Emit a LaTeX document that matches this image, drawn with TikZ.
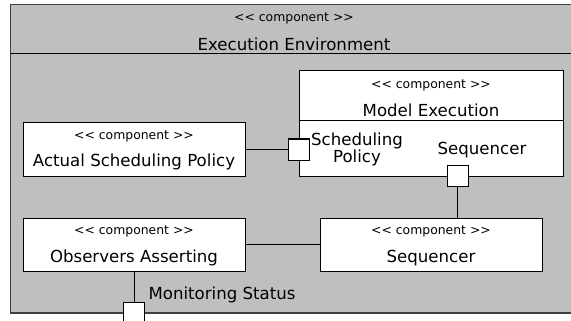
\documentclass[tikz,border=0pt]{standalone}
\usepackage{fontspec}
\setmainfont{DejaVu Sans}
\usetikzlibrary{positioning}

\newcommand{\stereotype}{<\kern0pt< component >\kern0pt>}

\tikzset{
  envbox/.style={draw=black!75, fill=black!25, line width=1.5pt},
  comp/.style={draw, fill=white, line width=1pt, inner sep=0pt},
  stereo/.style={font=\fontsize{12.4}{14}\selectfont},
  compname/.style={font=\fontsize{16.6}{19}\selectfont},
  port/.style={draw, fill=white, line width=1pt, minimum size=21pt, inner sep=0pt},
  wire/.style={line width=1pt},
}

\begin{document}
\begin{tikzpicture}[x=1pt, y=-1pt]
  \useasboundingbox (0,0) rectangle (571,321);
  \clip (0,0) rectangle (571,321);

  % Execution environment
  \draw[envbox] (10.5,4.5) rectangle (640,313);
  \draw[line width=1pt] (10.5,54) -- (571,54);
  \node[stereo] at (294,18) {\stereotype};
  \node[compname] at (294,44) {Execution Environment};

  % Components
  \node[comp, minimum width=264pt, minimum height=105pt] (modelExec) at (431,123.5) {};
  \draw[wire] (modelExec.west |- 0,121) -- (modelExec.east |- 0,121);
  \node[stereo] at (431,85) {\stereotype};
  \node[compname] at (431,110) {Model Execution};

  \node[comp, minimum width=222pt, minimum height=53pt] (actualPolicy) at (134,149.5) {};
  \node[stereo] at (134,136) {\stereotype};
  \node[compname] at (134,162) {Actual Scheduling Policy};

  \node[comp, minimum width=222pt, minimum height=53pt] (observers) at (134,244.5) {};
  \node[stereo] at (134,231) {\stereotype};
  \node[compname] at (134,258) {Observers Asserting};

  \node[comp, minimum width=222pt, minimum height=53pt] (sequencer) at (431,244.5) {};
  \node[stereo] at (431,231) {\stereotype};
  \node[compname] at (431,258) {Sequencer};

  % Ports
  \node[port] (schedPort) at (modelExec.west |- 0,149.5) {};
  \node[compname, align=center] at (357,149) {Scheduling\\[-2pt]Policy};
  \node[port] (seqPort) at (457.5,176) {};
  \node[compname] at (482,150) {Sequencer};
  \node[port] (monitorPort) at (observers.south |- 0,313) {};
  \node[compname, anchor=west] at (145,295) {Monitoring Status};

  % Connectors
  \draw[wire] (actualPolicy.east) -- (schedPort.west);
  \draw[wire] (observers.east) -- (sequencer.west);
  \draw[wire] (seqPort.south) -- (seqPort.south |- sequencer.north);
  \draw[wire] (observers.south) -- (monitorPort.north);
\end{tikzpicture}
\end{document}
